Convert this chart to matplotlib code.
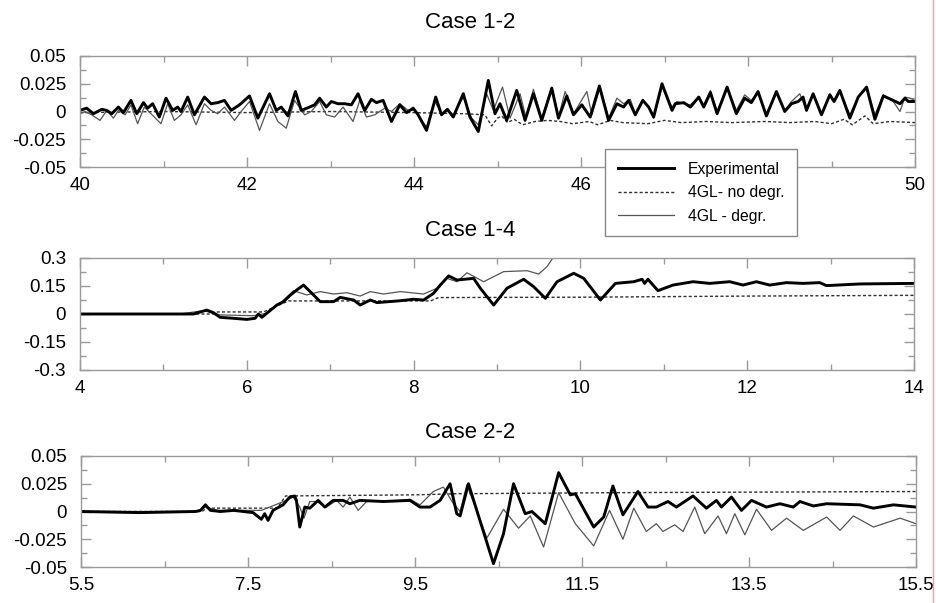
import numpy as np
import matplotlib
matplotlib.use('Agg')
import matplotlib.pyplot as plt
from matplotlib.lines import Line2D
from matplotlib.ticker import FixedLocator

plt.rcParams['font.family'] = ['Liberation Sans', 'DejaVu Sans']

## case 1-2
c12_exp_t = [40.0, 40.08, 40.16, 40.26, 40.32, 40.38, 40.46, 40.52, 40.61, 40.68, 40.76, 40.81, 40.87, 40.95,
             41.03, 41.11, 41.17, 41.21, 41.29, 41.37, 41.49, 41.57, 41.65, 41.73, 41.81, 41.91, 42.03, 42.13,
             42.27, 42.35, 42.41, 42.49, 42.58, 42.65, 42.75, 42.81, 42.87, 42.95, 43.01, 43.09, 43.17, 43.25,
             43.33, 43.41, 43.49, 43.55, 43.63, 43.73, 43.83, 43.91, 43.99, 44.05, 44.15, 44.26, 44.33, 44.40,
             44.47, 44.59, 44.67, 44.77, 44.89, 44.97, 45.03, 45.11, 45.23, 45.33, 45.43, 45.53, 45.65, 45.73,
             45.83, 45.91, 46.01, 46.11, 46.22, 46.33, 46.43, 46.51, 46.57, 46.65, 46.74, 46.81, 46.87, 46.97,
             47.09, 47.13, 47.23, 47.31, 47.41, 47.47, 47.55, 47.63, 47.75, 47.86, 47.96, 48.04, 48.12, 48.22,
             48.34, 48.44, 48.52, 48.60, 48.66, 48.70, 48.78, 48.88, 48.98, 49.03, 49.10, 49.22, 49.32, 49.42,
             49.52, 49.62, 49.74, 49.82, 49.88, 49.92, 50.0]
c12_exp_v = [0.001, 0.003, -0.002, 0.002, 0.001, -0.002, 0.004, -0.001, 0.010, -0.002, 0.008, 0.003, 0.007, -0.005,
             0.012, 0.001, 0.004, 0.0, 0.013, -0.003, 0.013, 0.007, 0.008, 0.010, 0.001, 0.006, 0.014, -0.006,
             0.016, 0.001, 0.004, -0.004, 0.018, 0.001, 0.004, 0.006, 0.012, 0.004, 0.009, 0.007, 0.007, 0.006,
             0.016, 0.001, 0.011, 0.008, 0.010, -0.009, 0.006, -0.001, 0.003, -0.003, -0.017, 0.013, -0.003, 0.002,
             -0.005, 0.016, -0.005, -0.018, 0.028, -0.002, 0.007, -0.008, 0.019, -0.008, 0.016, -0.008, 0.021, -0.006,
             0.014, -0.003, 0.006, -0.005, 0.023, -0.008, 0.007, 0.004, 0.010, -0.003, 0.010, 0.004, -0.005, 0.025,
             0.001, 0.007, 0.008, 0.004, 0.013, 0.004, 0.017, -0.002, 0.022, -0.002, 0.012, 0.008, 0.018, -0.004,
             0.018, 0.0, 0.007, 0.009, 0.013, 0.001, 0.016, -0.003, 0.015, 0.009, 0.019, -0.006, 0.013, 0.022,
             -0.007, 0.014, 0.010, 0.007, 0.012, 0.009, 0.009]
c12_deg_t = [40.0, 40.06, 40.14, 40.24, 40.32, 40.40, 40.46, 40.54, 40.61, 40.69, 40.77, 40.85, 40.97, 41.05,
             41.13, 41.21, 41.29, 41.39, 41.49, 41.57, 41.65, 41.73, 41.85, 41.93, 42.03, 42.15, 42.27, 42.37,
             42.47, 42.57, 42.69, 42.77, 42.87, 42.95, 43.05, 43.15, 43.27, 43.35, 43.43, 43.53, 43.65, 43.73,
             43.83, 43.93, 44.01, 44.15, 44.25, 44.33, 44.40, 44.47, 44.59, 44.69, 44.77, 44.87, 44.95, 45.06,
             45.15, 45.27, 45.34, 45.43, 45.53, 45.65, 45.73, 45.81, 45.91, 46.07, 46.13, 46.23, 46.33, 46.43,
             46.51, 46.59, 46.65, 46.74, 46.81, 46.87, 46.97, 47.09, 47.15, 47.23, 47.31, 47.41, 47.47, 47.55,
             47.63, 47.75, 47.86, 47.96, 48.04, 48.12, 48.22, 48.34, 48.44, 48.52, 48.62, 48.70, 48.78, 48.88,
             48.98, 49.04, 49.10, 49.22, 49.32, 49.42, 49.52, 49.62, 49.74, 49.82, 49.88, 49.94, 50.0]
c12_deg_v = [-0.002, 0.0, -0.003, -0.008, 0.001, -0.006, 0.001, -0.003, 0.006, -0.011, 0.004, -0.002, -0.011, 0.007,
             -0.008, -0.003, 0.006, -0.012, 0.007, 0.001, -0.002, 0.004, -0.008, 0.0, 0.009, -0.017, 0.007, -0.009,
             -0.015, 0.010, -0.003, 0.0, 0.009, -0.003, -0.005, 0.004, -0.009, 0.010, -0.005, -0.003, 0.003, 0.0,
             0.007, 0.001, 0.001, -0.014, 0.009, -0.002, 0.001, -0.003, 0.013, -0.006, -0.012, 0.016, 0.001, 0.022,
             -0.006, 0.016, -0.005, 0.020, -0.006, 0.022, -0.005, 0.018, -0.002, 0.018, -0.003, 0.022, -0.006, 0.012,
             0.007, 0.011, -0.002, 0.011, 0.004, -0.006, 0.022, 0.004, 0.009, 0.007, 0.006, 0.013, 0.006, 0.019,
             0.0, 0.021, 0.001, 0.015, 0.010, 0.016, -0.002, 0.016, 0.001, 0.009, 0.016, 0.001, 0.015, -0.002,
             0.016, 0.009, 0.018, -0.003, 0.013, 0.021, -0.003, 0.015, 0.009, 0.0, 0.013, 0.012, 0.010]
c12_nod_t = [40.0, 41.0, 42.0, 43.0, 44.0, 44.6, 44.85, 44.93, 45.0, 45.05, 45.12, 45.2, 45.3, 45.45, 45.6,
             45.75, 45.9, 46.1, 46.2, 46.35, 46.5, 46.8, 47.0, 47.2, 47.5, 47.8, 48.2, 48.5, 48.8, 49.0,
             49.15, 49.25, 49.4, 49.5, 49.7, 50.0]
c12_nod_v = [-0.001, 0.0, -0.001, 0.0, -0.001, -0.002, -0.003, -0.013, -0.006, -0.004, -0.010, -0.007, -0.012,
             -0.009, -0.008, -0.009, -0.011, -0.009, -0.012, -0.008, -0.010, -0.011, -0.008, -0.010, -0.009,
             -0.010, -0.009, -0.010, -0.009, -0.011, -0.007, -0.012, -0.004, -0.011, -0.009, -0.010]

## case 1-4
c14_exp_t = [4.0, 5.2, 5.36, 5.52, 5.60, 5.68, 5.84, 6.00, 6.10, 6.14, 6.18, 6.24, 6.36, 6.44, 6.52, 6.60,
             6.68, 6.78, 6.88, 7.04, 7.12, 7.28, 7.36, 7.48, 7.56, 7.84, 8.00, 8.12, 8.24, 8.32, 8.42, 8.52,
             8.72, 8.80, 8.96, 9.12, 9.32, 9.44, 9.58, 9.72, 9.92, 10.04, 10.24, 10.42, 10.64, 10.74, 10.77,
             10.81, 10.93, 11.11, 11.35, 11.55, 11.79, 11.95, 12.11, 12.27, 12.47, 12.67, 12.87, 12.95, 13.35, 14.0]
c14_exp_v = [0.0, 0.0, 0.0, 0.021, 0.007, -0.018, -0.023, -0.029, -0.023, 0.0, -0.018, 0.004, 0.048, 0.066,
             0.100, 0.129, 0.155, 0.111, 0.066, 0.066, 0.089, 0.075, 0.048, 0.075, 0.061, 0.071, 0.079, 0.075,
             0.111, 0.155, 0.204, 0.182, 0.191, 0.138, 0.048, 0.138, 0.186, 0.146, 0.084, 0.173, 0.218, 0.191,
             0.075, 0.164, 0.173, 0.186, 0.164, 0.186, 0.125, 0.155, 0.173, 0.164, 0.173, 0.155, 0.173, 0.155,
             0.168, 0.164, 0.168, 0.152, 0.161, 0.164]
c14_deg_t = [4.0, 5.2, 5.48, 5.68, 6.08, 6.24, 6.40, 6.56, 6.72, 6.88, 7.04, 7.20, 7.36, 7.48, 7.64, 7.84,
             8.12, 8.28, 8.40, 8.52, 8.64, 8.84, 9.08, 9.36, 9.50, 9.60, 9.68, 9.72]
c14_deg_v = [0.0, 0.0, 0.018, -0.005, -0.009, 0.004, 0.057, 0.125, 0.102, 0.12, 0.107, 0.114, 0.096, 0.12,
             0.107, 0.12, 0.107, 0.138, 0.191, 0.173, 0.221, 0.173, 0.227, 0.232, 0.214, 0.254, 0.307, 0.343]
c14_nod_t = [4.0, 5.6, 5.65, 6.2, 6.5, 8.2, 8.3, 10.0, 12.0, 14.0]
c14_nod_v = [0.0, 0.0, 0.011, 0.011, 0.07, 0.07, 0.088, 0.09, 0.096, 0.10]

## case 2-2
c22_exp_t = [5.5, 6.2, 6.87, 6.93, 6.99, 7.05, 7.17, 7.33, 7.56, 7.66, 7.70, 7.74, 7.80, 7.92, 8.00, 8.06,
             8.08, 8.12, 8.18, 8.24, 8.34, 8.42, 8.52, 8.64, 8.72, 8.84, 9.12, 9.44, 9.56, 9.68, 9.80, 9.92,
             10.00, 10.04, 10.14, 10.24, 10.44, 10.56, 10.68, 10.82, 10.90, 11.06, 11.22, 11.36, 11.42, 11.64,
             11.76, 11.87, 11.99, 12.17, 12.29, 12.39, 12.53, 12.63, 12.83, 12.99, 13.11, 13.17, 13.29, 13.41,
             13.53, 13.71, 13.87, 14.03, 14.11, 14.27, 14.43, 14.83, 14.99, 15.23, 15.5]
c22_exp_v = [0.0, -0.001, 0.0, 0.001, 0.006, 0.001, 0.0, 0.001, -0.001, -0.007, -0.002, -0.008, 0.001, 0.006,
             0.013, 0.014, 0.010, -0.014, 0.004, 0.003, 0.010, 0.004, 0.010, 0.010, 0.007, 0.010, 0.009, 0.010,
             0.004, 0.004, 0.010, 0.025, -0.002, -0.004, 0.025, 0.001, -0.047, -0.020, 0.025, -0.002, 0.0,
             -0.011, 0.035, 0.015, 0.016, -0.014, -0.005, 0.023, -0.003, 0.018, 0.004, 0.004, 0.009, 0.004,
             0.014, 0.003, 0.010, 0.004, 0.013, 0.001, 0.010, 0.004, 0.007, 0.004, 0.009, 0.005, 0.007, 0.006,
             0.003, 0.006, 0.004]
c22_deg_t = [5.5, 6.9, 6.99, 7.14, 7.66, 7.96, 8.04, 8.12, 8.17, 8.24, 8.32, 8.44, 8.56, 8.64, 8.72, 8.82,
             8.92, 9.32, 9.44, 9.56, 9.72, 9.84, 9.96, 10.04, 10.12, 10.24, 10.36, 10.56, 10.74, 10.88, 11.04,
             11.22, 11.42, 11.64, 11.83, 11.99, 12.12, 12.27, 12.39, 12.47, 12.61, 12.71, 12.85, 12.97, 13.13,
             13.23, 13.33, 13.45, 13.59, 13.77, 13.95, 14.15, 14.43, 14.59, 14.75, 14.99, 15.31, 15.5]
c22_deg_v = [0.0, 0.0, 0.004, 0.001, 0.001, 0.010, 0.013, 0.004, -0.006, 0.009, 0.009, 0.004, 0.010, 0.004,
             0.013, 0.001, 0.009, 0.010, 0.011, 0.006, 0.018, 0.022, 0.007, 0.0, 0.024, 0.001, -0.024, 0.002,
             -0.015, -0.004, -0.032, 0.017, -0.011, -0.031, 0.001, -0.025, 0.003, -0.018, -0.011, -0.018, -0.012,
             -0.018, 0.004, -0.020, -0.004, -0.020, -0.002, -0.021, 0.002, -0.017, -0.006, -0.017, -0.005,
             -0.017, -0.004, -0.014, -0.006, -0.011]
c22_nod_t = [5.5, 6.95, 7.0, 7.85, 7.95, 9.5, 10.0, 12.0, 15.5]
c22_nod_v = [0.0, 0.0, 0.003, 0.003, 0.014, 0.015, 0.016, 0.017, 0.018]

titles = ['Case 1-2', 'Case 1-4', 'Case 2-2']
legendLabels = ['Experimental', '4GL- no degr.', '4GL - degr.']

xMajor = [[40, 42, 44, 46, 48, 50], [4, 6, 8, 10, 12, 14], [5.5, 7.5, 9.5, 11.5, 13.5, 15.5]]
xMinor = [[41, 43, 45, 47, 49], [5, 7, 9, 11, 13], [6.5, 8.5, 10.5, 12.5, 14.5]]
## the "48" label sits under the legend in the original, so it is left blank
xLabels = [['40', '42', '44', '46', '', '50'], ['4', '6', '8', '10', '12', '14'],
           ['5.5', '7.5', '9.5', '11.5', '13.5', '15.5']]
yMajor = [[-0.05, -0.025, 0, 0.025, 0.05], [-0.3, -0.15, 0, 0.15, 0.3], [-0.05, -0.025, 0, 0.025, 0.05]]
yMinor = [[-0.0375, -0.0125, 0.0125, 0.0375], [-0.225, -0.075, 0.075, 0.225], [-0.0375, -0.0125, 0.0125, 0.0375]]
yLabels = [['-0.05', '-0.025', '0', '0.025', '0.05'], ['-0.3', '-0.15', '0', '0.15', '0.3'],
           ['-0.05', '-0.025', '0', '0.025', '0.05']]

series = [(c12_exp_t, c12_exp_v, c12_nod_t, c12_nod_v, c12_deg_t, c12_deg_v),
          (c14_exp_t, c14_exp_v, c14_nod_t, c14_nod_v, c14_deg_t, c14_deg_v),
          (c22_exp_t, c22_exp_v, c22_nod_t, c22_nod_v, c22_deg_t, c22_deg_v)]

## layout in pixels of the 936x603 picture
W, H = 936, 603
axBoxes = [(80, 56, 915, 167), (80, 258, 914, 370), (81, 456, 916, 567)]
titleY = [22, 230, 432]

fig = plt.figure(figsize=(W / 100, H / 100), dpi=100)
fig.patch.set_facecolor('white')

frameColor = '#9a9a9a'
handles = None
for i in range(3):
	x0, y0, x1, y1 = axBoxes[i]
	ax = fig.add_axes([x0 / W, 1 - y1 / H, (x1 - x0) / W, (y1 - y0) / H])
	expT, expV, nodT, nodV, degT, degV = series[i]
	hNod, = ax.plot(nodT, nodV, color='#303030', lw=1.0, linestyle=(0, (2.2, 1.6)))
	hDeg, = ax.plot(degT, degV, color='#555555', lw=0.9, solid_joinstyle='round')
	hExp, = ax.plot(expT, expV, color='black', lw=2.1, solid_joinstyle='round')
	handles = [hExp, hNod, hDeg]

	ax.set_xlim(xMajor[i][0], xMajor[i][-1])
	ax.set_ylim(yMajor[i][0], yMajor[i][-1])
	ax.set_xticks(xMajor[i])
	ax.set_xticklabels(xLabels[i])
	ax.set_yticks(yMajor[i])
	ax.set_yticklabels(yLabels[i])
	ax.xaxis.set_minor_locator(FixedLocator(xMinor[i]))
	ax.yaxis.set_minor_locator(FixedLocator(yMinor[i]))
	ax.tick_params(which='both', direction='in', top=True, right=True, color=frameColor,
		labelsize=13.5, width=1)
	ax.tick_params(which='major', length=7)
	ax.tick_params(which='minor', length=4.5)
	ax.tick_params(axis='y', pad=10)
	ax.tick_params(axis='x', pad=7)
	for s in ax.spines.values():
		s.set_color(frameColor)
		s.set_linewidth(1)

	fig.text(470 / W, 1 - titleY[i] / H, titles[i], ha='center', va='center', fontsize=16)

leg = fig.legend(handles, legendLabels, loc='upper left', bbox_to_anchor=(605 / W, 1 - 149 / H),
	bbox_transform=fig.transFigure, fontsize=11.3, frameon=True, fancybox=False,
	borderpad=0.8, handlelength=3.6, handletextpad=0.9, labelspacing=0.55, borderaxespad=0)
leg.get_frame().set_edgecolor('#888888')
leg.get_frame().set_linewidth(1)
leg.get_frame().set_alpha(1)

## thin red margin line on the right
fig.add_artist(Line2D([933 / W, 933 / W], [0, 1], transform=fig.transFigure, color='#f2a0a0', lw=1))

fig.savefig('out.png', dpi=100)
